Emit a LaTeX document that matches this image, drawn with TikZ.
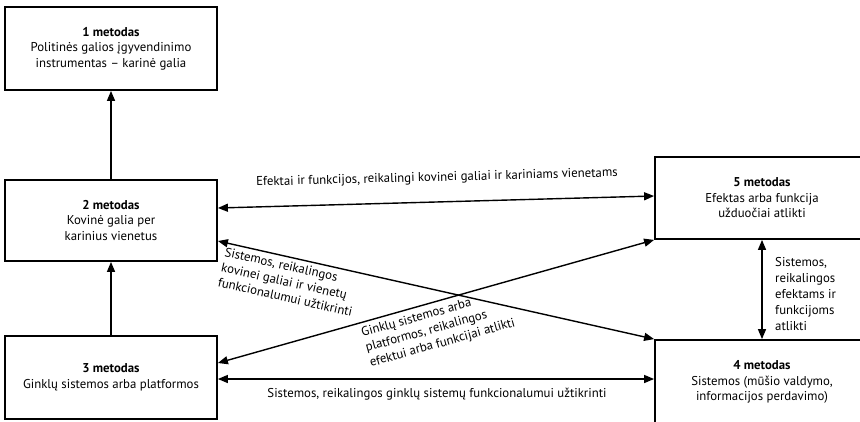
\documentclass[tikz,border=0pt]{standalone}
\usepackage{fontspec}
\setmainfont{PT Sans}
\usetikzlibrary{arrows.meta}
\begin{document}
\begin{tikzpicture}[x=1pt,y=-1pt,
  box/.style={draw, line width=1.8pt, fill=white, align=center, inner sep=0pt,
    font=\fontsize{12.8}{15.5}\selectfont},
  conn/.style={line width=1.4pt, {Triangle[length=10pt,width=8pt]}-{Triangle[length=10pt,width=8pt]}},
  uconn/.style={line width=1.4pt, -{Triangle[length=10pt,width=8pt]}},
  lbl/.style={font=\fontsize{12.8}{15.5}\selectfont, align=center, inner sep=0pt}]
\useasboundingbox (0,0) rectangle (860,421);
\clip (0,0) rectangle (860,421);
\fill[white] (0,0) rectangle (860,421);
\node[box, minimum width=212pt, minimum height=83pt] (b1) at (111,48.5)
  {\textbf{1 metodas}\\Politinės galios įgyvendinimo\\instrumentas – karinė galia};
\node[box, minimum width=212pt, minimum height=81pt] (b2) at (111,220.5)
  {\textbf{2 metodas}\\Kovinė galia per\\karinius vienetus};
\node[box, minimum width=212pt, minimum height=83pt] (b3) at (111,377.5)
  {\textbf{3 metodas}\\Ginklų sistemos arba platformos};
\node[box, minimum width=214pt, minimum height=82pt] (b5) at (762,198)
  {\textbf{5 metodas}\\Efektas arba funkcija\\užduočiai atlikti};
\node[box, minimum width=214pt, minimum height=84pt] (b4) at (762,382)
  {\textbf{4 metodas}\\Sistemos (mūšio valdymo,\\informacijos perdavimo)};
\draw[uconn] (b2.north) -- (b1.south);
\draw[uconn] (b3.north) -- (b2.south);
\draw[conn] ([yshift=12.5pt]b2.east) -- ([yshift=2pt]b5.west);
\draw[conn] ([yshift=-20.5pt]b2.east) -- (b4.north west);
\draw[conn] ([yshift=14.5pt]b3.east) -- (b5.south west);
\draw[conn] ([yshift=-1.5pt]b3.east) -- ([yshift=3pt]b4.west);
\draw[conn] (b5.south) -- (b4.north);
\node[lbl, rotate=1.5] (l1) at (437,178)
  {Efektai ir funkcijos, reikalingi kovinei galiai ir kariniams vienetams};
\node[lbl, align=left, anchor=north west, rotate=-12.7] (l2) at (226,247)
  {Sistemos, reikalingos\\kovinei galiai ir vienetų\\funkcionalumui užtikrinti};
\node[lbl, align=left, anchor=north west, rotate=15.7] (l3) at (360,328)
  {Ginklų sistemos arba\\platformos, reikalingos\\efektui arba funkcijai atlikti};
\node[lbl] (l4) at (437,394)
  {Sistemos, reikalingos ginklų sistemų funkcionalumui užtikrinti};
\node[lbl, align=left, anchor=west, font=\fontsize{12.8}{16}\selectfont] (l5) at (775,294)
  {Sistemos,\\reikalingos\\efektams ir\\funkcijoms\\atlikti};
\end{tikzpicture}
\end{document}
